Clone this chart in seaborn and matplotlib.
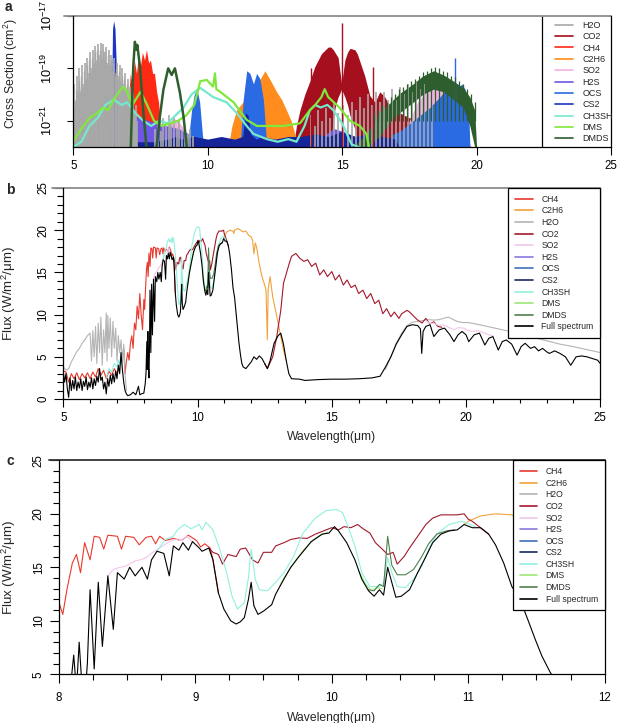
import numpy as np
import matplotlib
matplotlib.use("Agg")
import matplotlib.pyplot as plt
from matplotlib.lines import Line2D
from matplotlib.ticker import MultipleLocator, FixedLocator, NullLocator, LogFormatterMathtext
import seaborn as sns

# ---------------- DATA ----------------
# Panel a: log10(cross section) values
A_SPECIES = ['H2O', 'CO2', 'CH4', 'C2H6', 'SO2', 'H2S', 'OCS', 'CS2', 'CH3SH', 'DMS', 'DMDS']
A_H2O_SPIKES = [(5.02,-19.6),(5.07,-20.5),(5.12,-19.3),(5.17,-19.9),(5.22,-19.0),(5.27,-20.1),(5.32,-18.9),
    (5.37,-19.6),(5.42,-18.8),(5.47,-19.4),(5.52,-18.6),(5.57,-19.2),(5.62,-18.4),(5.67,-19.0),(5.72,-18.3),
    (5.77,-18.8),(5.82,-18.15),(5.87,-18.7),(5.92,-18.1),(5.97,-18.5),(6.02,-18.05),(6.07,-18.6),(6.12,-18.1),
    (6.17,-18.4),(6.22,-18.2),(6.27,-18.8),(6.32,-18.3),(6.37,-18.9),(6.42,-18.5),(6.47,-19.1),(6.52,-18.6),
    (6.57,-19.2),(6.62,-18.8),(6.67,-19.3),(6.72,-18.9),(6.77,-19.5),(6.82,-19.0),(6.87,-19.6),(6.92,-19.2),
    (6.97,-19.8),(7.02,-19.4),(7.07,-20.0),(7.12,-19.7),(7.17,-20.3),(7.22,-20.0),(7.27,-20.6),(7.32,-20.4),
    (7.37,-21.0),(8.05,-21.3),(8.15,-21.0),(8.25,-21.4),(8.35,-20.9),(8.45,-21.2),(8.55,-20.8),(8.65,-21.1),
    (8.75,-20.9),(8.85,-21.3),(8.95,-21.0),(9.05,-21.4),(9.15,-21.2),(9.25,-21.5),(9.35,-21.3),(9.45,-21.6),
    (13.85,-20.8),(14.0,-21.2),(14.1,-20.6),(14.25,-21.0),(14.4,-20.5),(14.55,-20.9),(14.7,-20.3),(14.85,-20.7),
    (15.05,-20.4),(15.2,-20.8),(15.35,-20.3),(15.5,-20.6),(15.65,-20.1),(15.8,-20.5),(15.95,-20.0),(16.1,-20.4),
    (16.25,-19.9),(16.4,-20.3),(16.55,-19.9),(16.7,-20.2),(16.85,-19.8),(17.0,-20.2),(17.15,-19.7),(17.3,-20.0),
    (17.45,-19.6),(17.6,-19.9),(17.75,-19.5),(17.9,-19.8),(18.05,-19.6),(18.2,-20.0),(18.35,-20.4)]
A_H2O_SPIKES_FINE = [(5.045,-20.2),(5.095,-19.8),(5.145,-20.4),(5.195,-19.5),(5.245,-19.9),(5.295,-19.3),
    (5.345,-19.7),(5.395,-19.1),(5.445,-19.6),(5.495,-18.9),(5.545,-19.4),(5.595,-18.7),(5.645,-19.2),
    (5.695,-18.6),(5.745,-19.0),(5.795,-18.4),(5.845,-18.9),(5.895,-18.3),(5.945,-18.8),(5.995,-18.3),
    (6.045,-18.7),(6.095,-18.3),(6.145,-18.7),(6.195,-18.4),(6.245,-18.9),(6.295,-18.5),(6.345,-19.0),
    (6.395,-18.7),(6.445,-19.2),(6.495,-18.8),(6.545,-19.3),(6.595,-19.0),(6.645,-19.4),(6.695,-19.1),
    (6.745,-19.6),(6.795,-19.3),(6.845,-19.7),(6.895,-19.4),(6.945,-19.9),(6.995,-19.6),(7.045,-20.1),
    (7.095,-19.9),(7.145,-20.4),(7.195,-20.2),(7.245,-20.7),(7.295,-20.6),(7.345,-21.1)]
# (wavelength, lower, upper)
A_CO2_BAND = [(13.18,-22,-22.0),(13.30,-22,-21.2),(13.43,-22,-20.6),(13.61,-22,-20.0),(13.80,-22,-19.5),
    (13.98,-22,-18.95),(14.23,-22,-18.45),(14.48,-22,-18.2),(14.58,-22,-18.2),(14.67,-20.9,-18.3),
    (14.76,-20.4,-18.45),(14.85,-20.1,-18.6),(14.98,-19.8,-19.6),(15.10,-20.1,-18.7),(15.20,-20.4,-18.4),
    (15.29,-20.8,-18.25),(15.47,-21.3,-18.3),(15.56,-22,-18.45),(15.66,-22,-18.75),(15.84,-22,-19.3),
    (16.03,-22,-20.05),(16.22,-22,-20.3),(16.40,-22,-19.9),(16.59,-22,-20.1),(16.84,-22,-20.6),
    (17.14,-22,-20.7),(17.52,-22,-20.9),(17.89,-22,-20.6),(18.07,-22,-20.35),(18.13,-22,-22.0)]
A_CO2_SPIKES = [(13.84,-19.0),(15.0,-17.3),(16.15,-18.95)]
A_CH4_BAND = [(6.30,-22.0),(6.38,-21.0),(6.45,-21.6),(6.52,-20.6),(6.60,-21.2),(6.68,-20.4),(6.75,-20.9),
    (6.82,-20.0),(6.90,-20.5),(6.97,-19.7),(7.05,-20.2),(7.12,-19.2),(7.20,-19.7),(7.27,-18.7),(7.35,-19.2),
    (7.42,-18.5),(7.50,-18.9),(7.57,-18.4),(7.65,-18.7),(7.72,-18.3),(7.80,-18.8),(7.87,-18.7),(7.95,-19.2),
    (8.02,-19.2),(8.10,-19.9),(8.17,-20.3),(8.25,-21.2),(8.32,-22.0)]
A_C2H6_BAND1 = [(5.5,-22.0),(5.6,-21.2),(5.8,-20.9),(6.0,-20.8),(6.2,-20.6),(6.4,-20.3),(6.55,-19.9),
    (6.7,-20.2),(6.85,-20.6),(7.0,-21.0),(7.2,-21.5),(7.3,-22.0)]
A_C2H6_BAND2 = [(10.76,-22.0),(10.9,-21.2),(11.07,-20.6),(11.3,-20.3),(11.57,-20.0),(11.85,-19.6),
    (12.13,-19.1),(12.35,-19.5),(12.56,-19.9),(12.75,-20.2),(12.93,-20.6),(13.1,-21.0),(13.24,-21.5),(13.43,-22.0)]
A_SO2_BAND1 = [(8.3,-22.0),(8.5,-21.2),(8.7,-20.9),(8.9,-21.0),(9.1,-21.3),(9.3,-22.0)]
A_SO2_BAND2 = [(17.3,-22.0),(17.5,-21.0),(17.8,-20.3),(18.1,-19.9),(18.4,-19.75),(18.7,-19.85),
    (19.0,-20.2),(19.3,-20.8),(19.55,-21.4),(19.8,-22.0)]
A_H2S_BAND1 = [(6.2,-22.0),(6.35,-21.2),(6.6,-20.8),(6.9,-20.7),(7.2,-20.8),(7.5,-20.9),(7.8,-21.0),
    (8.1,-21.1),(8.5,-21.2),(8.9,-21.3),(9.3,-21.5),(9.6,-22.0)]
A_H2S_BAND2 = [(14.2,-22.0),(14.4,-21.5),(14.7,-21.3),(15.0,-21.4),(15.3,-22.0)]
A_OCS_BAND1 = [(9.25,-22.0),(9.4,-20.6),(9.5,-20.0),(9.6,-19.8),(9.7,-20.3),(9.8,-21.5),(9.85,-22.0)]
A_OCS_BAND2 = [(11.2,-22.0),(11.32,-20.2),(11.45,-19.1),(11.57,-19.2),(11.7,-19.6),(11.82,-19.2),
    (11.94,-19.4),(12.07,-20.2),(12.2,-22.0)]
A_OCS_BAND3 = [(16.7,-22.0),(16.9,-21.5),(17.14,-21.4),(17.52,-21.1),(17.89,-20.8),(18.26,-20.5),
    (18.63,-20.1),(18.88,-19.8),(19.15,-19.65),(19.32,-19.75),(19.45,-19.6),(19.57,-19.8),(19.7,-20.3),(19.75,-22.0)]
A_OCS_SPIKES = [(19.2,-18.63)]
A_CS2_BAND1 = [(6.30,-22.0),(6.36,-21.5),(6.42,-20.3),(6.46,-17.5),(6.50,-17.2),(6.55,-17.5),
    (6.60,-18.95),(6.67,-20.6),(6.73,-22.0)]
A_CS2_BAND2 = [(5.15,-22.0),(5.22,-20.5),(5.27,-19.65),(5.32,-20.5),(5.38,-22.0)]
A_CS2_BAND3 = [(5.75,-22.0),(5.82,-20.8),(5.87,-20.1),(5.93,-20.9),(6.0,-22.0)]
A_CS2_FLOOR = [(6.0,-22.0),(6.5,-21.8),(7.0,-21.8),(7.5,-21.8),(8.0,-21.8),(8.5,-21.7),(8.8,-21.6),
    (9.0,-21.7),(9.5,-21.6),(10.0,-21.7),(10.5,-21.6),(11.0,-21.7),(11.3,-21.6),(11.4,-20.7),(11.5,-20.8),
    (11.6,-21.5),(11.8,-21.7),(12.0,-21.6),(12.5,-21.7),(13.0,-21.6),(13.5,-21.6),(14.0,-21.5),(14.5,-21.6),
    (15.0,-21.4),(15.5,-21.6),(16.0,-21.5),(16.5,-21.6),(17.0,-21.7),(17.1,-22.0)]
A_CH3SH_LINE = [(5.0,-22.0),(5.3,-21.8),(5.6,-21.2),(5.9,-20.9),(6.2,-20.4),(6.5,-20.2),(6.8,-20.4),
    (7.0,-20.3),(7.3,-20.7),(7.6,-21.0),(7.9,-21.2),(8.2,-21.0),(8.5,-21.1),(8.8,-20.8),(9.1,-20.5),
    (9.4,-20.0),(9.72,-19.75),(10.2,-20.1),(10.7,-20.3),(11.07,-20.7),(11.45,-21.2),(11.7,-21.5),
    (12.2,-21.7),(12.6,-21.8),(13.0,-21.7),(13.3,-21.8),(13.6,-21.2),(13.8,-20.6),(14.0,-20.4),
    (14.2,-20.5),(14.45,-20.4),(14.67,-20.6),(15.0,-21.1),(15.35,-21.9),(15.6,-22.0)]
A_DMS_LINE = [(5.0,-21.8),(5.3,-21.3),(5.6,-20.9),(5.9,-20.7),(6.1,-20.5),(6.3,-20.6),(6.5,-20.2),
    (6.7,-19.9),(6.85,-19.7),(7.0,-19.9),(7.2,-20.4),(7.5,-19.9),(7.7,-20.3),(8.0,-21.0),(8.3,-21.2),
    (8.6,-21.1),(8.9,-21.0),(9.2,-20.8),(9.5,-20.4),(9.72,-19.5),(9.96,-19.45),(10.2,-19.7),(10.27,-19.2),
    (10.32,-19.8),(10.46,-19.9),(10.96,-20.3),(11.45,-20.97),(11.83,-21.2),(12.3,-21.2),(12.82,-21.2),
    (13.43,-21.1),(13.8,-20.6),(14.0,-20.4),(14.23,-20.1),(14.35,-19.8),(14.48,-20.1),(14.9,-20.5),
    (15.29,-21.0),(15.66,-21.2),(15.9,-21.5),(16.0,-22.0)]
A_DMDS_LINE1 = [(6.95,-22.2),(7.14,-22.0),(7.2,-19.8),(7.23,-18.95),(7.29,-18.0),(7.35,-18.3),
    (7.38,-18.12),(7.48,-18.95),(7.6,-20.6),(7.72,-22.0),(7.9,-22.2)]
A_DMDS_LINE2 = [(7.9,-22.2),(8.1,-22.0),(8.22,-20.85),(8.35,-19.83),(8.53,-19.01),(8.66,-19.26),
    (8.78,-19.01),(8.97,-19.96),(9.1,-20.85),(9.22,-22.0),(9.4,-22.2)]
A_DMDS_BAND = [(15.41,-22,-22),(15.9,-22,-21.5),(16.4,-21.6,-20.7),(16.9,-20.9,-20.2),(17.14,-20.7,-19.96),
    (17.64,-20.3,-19.6),(18.0,-20.0,-19.3),(18.4,-19.8,-19.1),(18.77,-19.9,-19.26),(19.15,-20.2,-19.5),
    (19.5,-20.5,-19.75),(19.75,-21.2,-20.1),(19.93,-22,-20.6),(20.0,-22,-22)]
A_DMDS_COMB = [(16.2,-20.7),(16.35,-20.6),(16.5,-20.4),(16.65,-20.3),(16.8,-20.1),(16.95,-20.0),(17.1,-19.8),
    (17.25,-19.7),(17.4,-19.6),(17.55,-19.5),(17.7,-19.4),(17.85,-19.3),(18.0,-19.15),(18.15,-19.1),(18.3,-19.0),
    (18.45,-18.95),(18.6,-19.0),(18.75,-19.1),(18.9,-19.15),(19.05,-19.3),(19.2,-19.35),(19.35,-19.5),
    (19.5,-19.6),(19.65,-19.8),(19.8,-20.0),(19.95,-20.3)]

# Panels b and c: flux (W/m2/um) vs wavelength (um)
BC_SPECIES = ['CH4', 'C2H6', 'H2O', 'CO2', 'SO2', 'H2S', 'OCS', 'CS2', 'CH3SH', 'DMS', 'DMDS', 'Full spectrum']
FULL_SPECTRUM = [(5.0,3.2),(5.05,2.0),(5.1,3.0),(5.15,1.2),(5.2,0.2),(5.25,2.5),(5.3,1.0),(5.35,2.2),(5.4,1.2),
    (5.45,2.6),(5.5,1.0),(5.55,2.0),(5.6,1.3),(5.65,2.4),(5.7,1.0),(5.75,2.1),(5.8,1.5),(5.85,2.6),(5.9,1.1),
    (5.95,2.0),(6.0,1.4),(6.05,2.5),(6.1,1.2),(6.15,2.4),(6.2,1.6),(6.25,2.7),(6.3,2.0),(6.35,3.6),(6.4,2.2),
    (6.45,2.6),(6.5,1.2),(6.55,2.0),(6.6,0.6),(6.65,2.4),(6.7,1.5),(6.75,2.8),(6.8,1.8),(6.85,3.0),(6.9,2.0),
    (6.95,3.3),(7.0,2.4),(7.05,4.0),(7.1,3.0),(7.15,5.5),(7.2,3.5),(7.25,2.0),(7.3,1.0),(7.35,0.6),(7.4,0.4),
    (7.5,0.5),(7.6,0.8),(7.7,0.5),(7.8,1.5),(7.85,0.5),(7.9,0.6),(8.0,0.7),(8.05,1.8),(8.08,3.0),(8.11,6.8),
    (8.13,3.5),(8.15,8.0),(8.17,4.0),(8.19,2.5),(8.21,6.0),(8.23,12.9),(8.25,8.0),(8.26,5.5),(8.29,13.6),
    (8.32,7.6),(8.36,14.2),(8.40,9.2),(8.43,14.5),(8.48,13.9),(8.52,15.0),(8.56,14.2),(8.61,15.0),(8.65,13.9),
    (8.68,15.7),(8.72,16.5),(8.77,16.3),(8.81,14.2),(8.84,17.0),(8.88,16.6),(8.91,17.3),(8.95,16.6),(8.98,17.4),
    (9.03,16.8),(9.05,16.5),(9.10,16.8),(9.13,15.7),(9.17,12.6),(9.21,11.1),(9.26,10.0),(9.30,9.7),(9.33,9.9),
    (9.36,10.3),(9.39,12.0),(9.41,13.6),(9.43,11.4),(9.46,10.6),(9.50,10.9),(9.56,11.5),(9.59,12.5),(9.65,13.9),
    (9.70,15.0),(9.76,16.0),(9.85,17.4),(9.93,18.1),(9.98,18.2),(10.02,18.8),(10.05,18.4),(10.11,17.3),
    (10.17,15.7),(10.22,13.9),(10.27,12.8),(10.31,12.3),(10.35,12.9),(10.38,12.4),(10.41,15.0),(10.44,13.6),
    (10.47,12.2),(10.51,12.3),(10.57,12.9),(10.63,14.5),(10.69,16.0),(10.74,17.3),(10.80,18.1),(10.86,18.4),
    (10.92,18.5),(10.97,19.0),(11.03,18.7),(11.09,18.7),(11.15,18.1),(11.20,17.1),(11.26,15.4),(11.32,13.2),
    (11.38,12.0),(11.44,10.0),(11.49,8.3),(11.54,6.7),(11.60,5.2),(11.65,4.2),(11.7,3.8),(11.8,3.6),(11.9,4.0),
    (12.0,4.4),(12.1,5.0),(12.2,4.7),(12.3,5.1),(12.4,4.8),(12.5,4.2),(12.6,3.6),(12.7,4.5),(12.85,6.6),
    (13.0,7.5),(13.1,7.8),(13.2,6.5),(13.3,4.6),(13.4,3.0),(13.5,2.4),(13.8,2.35),(14.0,2.2),(14.5,2.3),
    (15.0,2.35),(15.5,2.35),(16.0,2.4),(16.5,2.5),(16.8,2.7),(17.0,3.8),(17.2,5.0),(17.4,6.5),(17.6,7.6),
    (17.8,8.6),(18.0,8.8),(18.2,8.7),(18.3,8.3),(18.35,5.4),(18.4,8.0),(18.5,8.6),(18.66,8.8),(18.8,7.4),
    (19.0,8.2),(19.2,8.4),(19.4,7.6),(19.55,6.8),(19.7,7.6),(19.85,8.0),(20.0,7.6),(20.1,6.8),(20.3,7.6),
    (20.5,7.8),(20.7,6.4),(20.85,7.2),(21.0,7.4),(21.2,5.8),(21.35,6.8),(21.5,7.0),(21.7,6.5),(21.9,5.2),
    (22.05,6.2),(22.2,6.6),(22.4,6.0),(22.55,6.2),(22.7,5.7),(22.85,6.0),(23.0,5.6),(23.1,5.4),(23.3,5.7),
    (23.5,5.4),(23.7,5.0),(23.9,4.0),(24.1,5.0),(24.3,5.1),(24.5,5.0),(24.7,4.8),(24.9,4.6),(25.0,4.2)]
CH4_LINE = [(5.0,3.3),(5.1,3.2),(5.2,2.0),(5.3,3.0),(5.4,2.4),(5.5,3.1),(5.6,2.3),(5.7,3.0),(5.8,2.5),(5.9,3.1),
    (6.0,2.4),(6.1,3.2),(6.2,2.6),(6.3,3.6),(6.4,2.8),(6.5,3.4),(6.6,2.4),(6.7,3.3),(6.8,2.8),(6.9,3.6),(7.0,3.0),
    (7.1,4.2),(7.2,5.0),(7.25,6.0),(7.3,3.0),(7.35,4.5),(7.4,5.5),(7.45,4.6),(7.5,6.6),(7.55,7.5),(7.6,6.0),
    (7.65,9.0),(7.7,8.2),(7.75,11.0),(7.8,9.5),(7.85,12.5),(7.9,10.0),(7.95,8.2),(8.0,11.8),(8.03,10.6),
    (8.06,12.9),(8.1,15.4),(8.13,16.2),(8.16,14.5),(8.19,17.3),(8.23,15.7),(8.26,17.9),(8.3,17.8),(8.33,16.7),
    (8.36,18.0),(8.43,17.9),(8.46,16.7),(8.49,17.9),(8.55,17.8),(8.59,17.1),(8.64,17.8),(8.68,17.9),(8.71,17.2),
    (8.74,17.9),(8.78,17.5),(8.84,17.7),(8.9,17.5),(8.95,18.0),(9.01,17.5),(9.04,16.9),(9.07,17.2),(9.11,16.8),
    (9.13,15.7),(9.17,12.6)]
C2H6_LINE = [(10.97,19.0),(11.0,19.3),(11.09,19.8),(11.2,20.0),(11.32,19.9),(11.35,19.6),(11.38,20.0),(11.5,20.2),
    (11.6,20.0),(11.7,19.8),(11.8,19.9),(11.9,19.4),(12.0,19.2),(12.05,18.8),(12.1,17.2),(12.15,18.5),(12.2,18.0),
    (12.3,16.0),(12.4,14.5),(12.5,13.5),(12.55,12.9),(12.6,7.0),(12.63,13.0),(12.7,14.5),(12.8,12.1),(12.95,9.8),
    (13.1,7.4),(13.2,5.8),(13.3,4.6)]
H2O_LINE1 = [(5.0,3.8),(5.1,3.4),(5.2,3.6),(5.3,4.4),(5.4,5.0),(5.5,5.6),(5.6,6.0),(5.7,6.6),(5.8,7.0),(5.9,7.5),
    (6.0,7.8),(6.05,4.5),(6.1,8.1),(6.15,5.0),(6.2,8.6),(6.25,4.2),(6.3,9.0),(6.35,5.5),(6.4,9.7),(6.45,4.0),
    (6.5,8.2),(6.55,5.5),(6.6,10.2),(6.63,4.5),(6.66,9.9),(6.7,6.0),(6.75,9.6),(6.8,5.0),(6.85,9.2),(6.9,6.0),
    (6.95,8.4),(7.0,4.5),(7.05,7.5),(7.1,5.5),(7.15,7.0),(7.2,4.2),(7.25,6.5),(7.3,3.0),(7.35,1.0)]
H2O_LINE2 = [(17.0,3.5),(17.2,5.0),(17.4,6.6),(17.6,7.8),(17.8,8.7),(18.0,9.1),(18.2,9.2),(18.4,9.3),(18.6,9.4),
    (18.8,9.35),(19.0,9.4),(19.2,9.6),(19.35,9.7),(19.5,9.45),(19.7,9.15),(19.9,9.05),(20.1,9.05),(20.5,8.8),
    (21.0,8.45),(21.5,8.1),(22.0,7.7),(22.5,7.3),(23.0,6.9),(23.5,6.5),(24.0,6.2),(24.5,5.85),(25.0,5.5)]
CO2_LINE1 = [(9.10,16.8),(9.13,16.4),(9.17,16.2),(9.2,15.3),(9.24,16.2),(9.3,16.0),(9.33,16.7),(9.37,16.8),
    (9.42,15.7),(9.46,15.4),(9.5,16.4),(9.56,16.4),(9.59,17.0),(9.65,17.3),(9.7,17.6),(9.76,17.75),(9.82,17.7),
    (9.88,18.1),(9.92,18.3),(9.96,18.5),(10.0,18.7),(10.05,18.5),(10.09,18.8),(10.14,18.7),(10.19,19.0),
    (10.23,18.6),(10.28,18.2),(10.32,17.3),(10.37,16.7),(10.41,16.2),(10.45,16.4),(10.48,15.3),(10.53,16.0),
    (10.57,16.8),(10.63,17.9),(10.69,19.0),(10.74,19.6),(10.8,19.9),(10.86,19.9),(10.92,19.9),(10.97,20.0),
    (11.0,19.5),(11.03,19.3),(11.08,18.8),(11.12,18.4),(11.15,18.1)]
CO2_LINE2 = [(12.5,4.2),(12.6,3.6),(12.8,5.0),(12.95,7.4),(13.1,10.5),(13.2,13.7),(13.4,15.9),(13.5,16.9),
    (13.66,17.25),(13.8,16.7),(13.96,16.3),(14.1,16.5),(14.25,15.7),(14.4,16.1),(14.55,14.7),(14.7,15.3),
    (14.84,14.5),(15.0,15.1),(15.13,14.1),(15.28,14.7),(15.43,13.5),(15.57,14.1),(15.72,13.2),(15.87,13.5),
    (16.0,12.5),(16.16,12.9),(16.3,11.9),(16.45,12.5),(16.6,11.3),(16.75,11.7),(16.9,10.1),(17.04,10.7),
    (17.2,9.75),(17.33,10.3),(17.5,9.55),(17.6,10.1),(17.8,10.5),(17.9,10.3),(18.07,9.75),(18.2,9.35),
    (18.36,9.0),(18.5,9.55),(18.65,8.9),(18.8,9.15),(18.95,8.6),(19.1,8.5)]
SO2_LINE1 = [(8.36,14.2),(8.40,14.8),(8.45,15.0),(8.49,15.1),(8.53,15.4),(8.56,15.6),(8.6,15.7),(8.64,15.9),
    (8.69,16.4),(8.75,16.9),(8.81,17.4),(8.85,17.6),(8.9,17.5),(8.94,17.9),(8.98,17.4)]
SO2_LINE2 = [(18.5,9.3),(18.66,8.95),(18.8,9.0),(18.95,8.75),(19.1,8.8),(19.17,8.75),(19.35,8.5),(19.55,8.2),
    (19.7,8.45),(19.9,8.4),(20.1,8.1),(20.27,8.0),(20.45,8.1),(20.6,7.9),(20.86,7.6),(21.0,7.5)]
CH3SH_LINE1 = [(6.6,2.5),(6.7,3.6),(6.8,3.2),(6.9,4.2),(7.0,3.8),(7.05,4.6),(7.1,4.0),(7.15,5.6),(7.2,4.0)]
CH3SH_LINE2 = [(8.72,16.5),(8.78,17.6),(8.84,17.9),(8.87,18.5),(8.92,19.0),(8.97,18.6),(9.03,19.0),(9.05,18.5),
    (9.08,19.2),(9.13,18.5),(9.18,16.7),(9.23,14.5),(9.27,12.3),(9.31,11.1),(9.36,11.7),(9.39,14.0),(9.41,16.7),
    (9.44,13.9),(9.47,12.9),(9.53,12.8),(9.59,13.6),(9.65,14.5),(9.72,16.0),(9.79,18.2),(9.88,19.6),(9.96,20.3),
    (10.04,20.4),(10.08,20.1),(10.12,18.8),(10.17,17.0),(10.22,14.5),(10.28,13.2),(10.34,13.2),(10.38,13.5),
    (10.41,15.9),(10.44,14.5),(10.48,13.2),(10.54,13.1),(10.6,13.9),(10.66,15.1),(10.71,16.7),(10.77,18.1),
    (10.86,19.0),(10.95,19.3),(11.0,19.1),(11.05,18.8)]
DMS_LINE1 = [(9.62,13.3),(9.68,14.6),(9.74,15.7),(9.8,16.7),(9.86,17.5),(9.92,18.0),(9.97,18.3)]
DMS_LINE2 = [(10.2,14.6),(10.25,13.4),(10.29,12.8),(10.33,13.1),(10.37,13.0)]
DMDS_LINE = [(10.27,12.9),(10.31,12.8),(10.35,13.4),(10.38,13.2),(10.41,17.9),(10.44,15.2),(10.48,14.3),
    (10.54,14.3),(10.6,14.8),(10.66,16.0),(10.71,17.2),(10.77,18.1),(10.84,18.4),(10.9,18.5)]

# ---------------- STYLE ----------------
sns.set_theme(style="ticks")
plt.rcParams['font.family'] = ['Liberation Sans', 'DejaVu Sans']
plt.rcParams['mathtext.fontset'] = 'custom'
plt.rcParams['mathtext.rm'] = 'Liberation Sans'
plt.rcParams['mathtext.it'] = 'Liberation Sans:italic'
plt.rcParams['mathtext.bf'] = 'Liberation Sans:bold'

COL_A = {'H2O': '#a8a8a8', 'CO2': '#a50f1e', 'CH4': '#ff2a14', 'C2H6': '#ff8c1c', 'SO2': '#f2b3e3',
         'H2S': '#6e56e6', 'OCS': '#2a6ae2', 'CS2': '#1b34c4', 'CH3SH': '#74e8cc', 'DMS': '#80e83c',
         'DMDS': '#2e5e2e'}
COL_BC = {'CH4': '#e83a2e', 'C2H6': '#f2a23a', 'H2O': '#b4b4b4', 'CO2': '#a3182c', 'SO2': '#f2c6ea',
          'H2S': '#8a78e0', 'OCS': '#3f72b8', 'CS2': '#1b2a66', 'CH3SH': '#92f0de', 'DMS': '#9ee878',
          'DMDS': '#4f804f', 'Full spectrum': '#000000'}

W, H = 618, 723
fig = plt.figure(figsize=(W / 100, H / 100), dpi=100)
fig.patch.set_facecolor('white')


def px_axes(l, r, t, b):
    return [l / W, 1 - b / H, (r - l) / W, (b - t) / H]


ax_a = fig.add_axes(px_axes(73.3, 611, 15.5, 147))
ax_b = fig.add_axes(px_axes(63.3, 600.3, 188, 399))
ax_c = fig.add_axes(px_axes(58.7, 604.7, 460.3, 674.3))
FLOOR = 1e-23


def p10(v):
    return np.power(10.0, np.asarray(v, dtype=float))


def fill2(ax, data, color):
    lam = [d[0] for d in data]
    hi = [d[-1] for d in data]
    lo = [d[1] for d in data] if len(data[0]) == 3 else None
    lower = p10(lo) if lo is not None else FLOOR
    ax.fill_between(lam, lower, p10(hi), color=color, lw=0)


def spikes(ax, data, color, lw, bottom=FLOOR):
    ax.vlines([d[0] for d in data], bottom, p10([d[1] for d in data]), color=color, lw=lw)


def line(ax, data, color, lw, log=False):
    x = [d[0] for d in data]
    y = [d[1] for d in data]
    if log:
        y = p10(y)
    sns.lineplot(x=x, y=y, ax=ax, color=color, lw=lw, sort=False, estimator=None, legend=False)


# ---------------- PANEL A ----------------
ax_a.set_yscale('log')
spikes(ax_a, A_H2O_SPIKES, COL_A['H2O'], 1.2)
spikes(ax_a, A_H2O_SPIKES_FINE, COL_A['H2O'], 1.0)
fill2(ax_a, A_CO2_BAND, COL_A['CO2'])
spikes(ax_a, A_CO2_SPIKES, COL_A['CO2'], 1.0)
fill2(ax_a, A_CH4_BAND, COL_A['CH4'])
fill2(ax_a, A_C2H6_BAND1, COL_A['C2H6'])
fill2(ax_a, A_C2H6_BAND2, COL_A['C2H6'])
fill2(ax_a, A_SO2_BAND1, COL_A['SO2'])
fill2(ax_a, A_SO2_BAND2, COL_A['SO2'])
fill2(ax_a, A_H2S_BAND1, COL_A['H2S'])
fill2(ax_a, A_H2S_BAND2, COL_A['H2S'])
fill2(ax_a, A_OCS_BAND1, COL_A['OCS'])
fill2(ax_a, A_OCS_BAND2, COL_A['OCS'])
fill2(ax_a, A_OCS_BAND3, COL_A['OCS'])
spikes(ax_a, A_OCS_SPIKES, COL_A['OCS'], 1.0)
fill2(ax_a, A_CS2_BAND1, COL_A['CS2'])
fill2(ax_a, A_CS2_BAND2, COL_A['CS2'])
fill2(ax_a, A_CS2_BAND3, COL_A['CS2'])
fill2(ax_a, A_CS2_FLOOR, '#16249a')
line(ax_a, A_CH3SH_LINE, COL_A['CH3SH'], 1.6, log=True)
line(ax_a, A_DMS_LINE, COL_A['DMS'], 1.6, log=True)
line(ax_a, A_DMDS_LINE1, COL_A['DMDS'], 1.8, log=True)
line(ax_a, A_DMDS_LINE2, COL_A['DMDS'], 1.8, log=True)
fill2(ax_a, A_DMDS_BAND, COL_A['DMDS'])
spikes(ax_a, A_DMDS_COMB, COL_A['DMDS'], 0.9, bottom=10 ** -21.0)

ax_a.set_xlim(5, 25)
ax_a.set_ylim(1e-22, 1e-17)
ax_a.xaxis.set_major_locator(FixedLocator([5, 10, 15, 20, 25]))
ax_a.xaxis.set_minor_locator(NullLocator())
ax_a.yaxis.set_major_locator(FixedLocator([1e-21, 1e-19, 1e-17]))
ax_a.yaxis.set_major_formatter(LogFormatterMathtext())
ax_a.yaxis.set_minor_locator(NullLocator())
ax_a.axvline(22.45, color='black', lw=0.9)
ax_a.set_ylabel('Cross Section (cm$^2$)', fontsize=8.8)
ax_a.yaxis.set_label_coords(-0.099, 0.56)
ax_a.set_xlabel('')

# ---------------- PANELS B, C ----------------
for ax in (ax_b, ax_c):
    line(ax, CH4_LINE, COL_BC['CH4'], 0.8)
    line(ax, C2H6_LINE, COL_BC['C2H6'], 0.8)
    line(ax, H2O_LINE1, COL_BC['H2O'], 0.8)
    line(ax, H2O_LINE2, COL_BC['H2O'], 0.8)
    line(ax, CO2_LINE1, COL_BC['CO2'], 0.8)
    line(ax, CO2_LINE2, COL_BC['CO2'], 0.8)
    line(ax, SO2_LINE1, COL_BC['SO2'], 0.8)
    line(ax, SO2_LINE2, COL_BC['SO2'], 0.8)
    line(ax, CH3SH_LINE1, COL_BC['CH3SH'], 0.8)
    line(ax, CH3SH_LINE2, COL_BC['CH3SH'], 0.8)
    line(ax, DMS_LINE1, COL_BC['DMS'], 0.8)
    line(ax, DMS_LINE2, COL_BC['DMS'], 0.8)
    line(ax, DMDS_LINE, COL_BC['DMDS'], 0.8)
    line(ax, FULL_SPECTRUM, COL_BC['Full spectrum'], 0.8)
    ax.set_xlabel('Wavelength(\u03bcm)', fontsize=8.7)
    ax.set_ylabel('Flux (W/m$^2$/\u03bcm)', fontsize=9.6)

ax_b.set_xlim(5, 25)
ax_b.set_ylim(0, 25)
ax_b.xaxis.set_major_locator(MultipleLocator(5))
ax_b.xaxis.set_minor_locator(MultipleLocator(1))
ax_b.yaxis.set_major_locator(MultipleLocator(5))
ax_b.yaxis.set_minor_locator(MultipleLocator(1))
ax_b.xaxis.set_label_coords(0.5, -0.152)
ax_b.yaxis.set_label_coords(-0.0844, 0.5)

ax_c.set_xlim(8, 12)
ax_c.set_ylim(5, 25)
ax_c.xaxis.set_major_locator(MultipleLocator(1))
ax_c.xaxis.set_minor_locator(MultipleLocator(0.25))
ax_c.yaxis.set_major_locator(MultipleLocator(5))
ax_c.yaxis.set_minor_locator(MultipleLocator(1))
ax_c.xaxis.set_label_coords(0.5, -0.176)
ax_c.yaxis.set_label_coords(-0.0745, 0.5)

# ---------------- AXES STYLE ----------------
for ax, top_col, ext_px, wpx in ((ax_a, '#8c8c8c', 9.5, 537.7), (ax_b, '#8c8c8c', 11.5, 537.0),
                                 (ax_c, '#333333', 10.0, 546.0)):
    for s in ('left', 'bottom', 'right'):
        ax.spines[s].set_color('black')
        ax.spines[s].set_linewidth(0.9)
    ax.spines['top'].set_visible(False)
    ax.plot([-ext_px / wpx, 1], [1, 1], transform=ax.transAxes, clip_on=False, color=top_col, lw=1.3)
    ax.set_facecolor('white')
    ax.tick_params(axis='both', which='both', direction='out', colors='black', width=0.8)
    ax.tick_params(axis='x', which='major', length=5.8, labelsize=8.3, pad=3.5)
    ax.tick_params(axis='x', which='minor', length=3.2)
    ax.tick_params(axis='y', which='major', length=6.5, labelsize=8.3, pad=3.5, labelrotation=90)
    ax.tick_params(axis='y', which='minor', length=4.0)
    for lab in ax.get_yticklabels():
        lab.set_va('center')

ax_a.tick_params(axis='y', which='major', length=4.0, pad=9, labelsize=9.2)
ax_c.tick_params(axis='x', which='major', length=6.5, pad=6)
ax_c.tick_params(axis='x', which='minor', length=4.0)
for lab in ax_a.get_yticklabels():
    lab.set_va('center')

# ---------------- LEGENDS ----------------
h_a = [Line2D([0], [0], color=COL_A[n], lw=1.2) for n in A_SPECIES]
leg_a = ax_a.legend(h_a, A_SPECIES, loc='center left', bbox_to_anchor=(550.7 / W, 1 - 82.2 / H),
                    bbox_transform=fig.transFigure, frameon=False, fontsize=6.5, borderpad=0,
                    handlelength=2.0, handletextpad=1.0, labelspacing=0.26)

h_bc = [Line2D([0], [0], color=COL_BC[n], lw=1.2) for n in BC_SPECIES]
for ax in (ax_b, ax_c):
    lg = ax.legend(h_bc, BC_SPECIES, loc='upper right', bbox_to_anchor=(1, 1), borderaxespad=0,
                   fontsize=6.2, frameon=True, fancybox=False, borderpad=0.8, handlelength=2.0,
                   handletextpad=1.0, labelspacing=0.30)
    lg.get_frame().set_edgecolor('black')
    lg.get_frame().set_linewidth(0.9)
    lg.get_frame().set_alpha(1)

# panel letters
for letter, (x, y) in (('a', (5, 7)), ('b', (6.5, 190)), ('c', (6.5, 461))):
    fig.text(x / W, 1 - y / H, letter, fontsize=10, fontweight='bold', ha='left', va='center')

fig.savefig('out.png', dpi=100, facecolor='white')
